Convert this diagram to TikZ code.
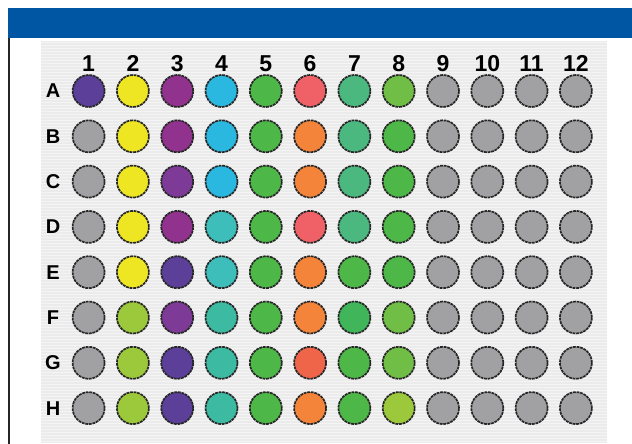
\documentclass[tikz,border=0pt]{standalone}
\usepackage{fontspec}
\setmainfont{Liberation Sans}
\usepackage{xcolor}
\usepackage{tikz}
\usetikzlibrary{positioning}

\definecolor{hdrblue}{HTML}{0056A3}
\definecolor{panelgray}{HTML}{EBEBEC}
\definecolor{wIndigo}{HTML}{5B3F99}
\definecolor{wYellow}{HTML}{EEE523}
\definecolor{wMagenta}{HTML}{92328F}
\definecolor{wPurple}{HTML}{7D3A96}
\definecolor{wCyan}{HTML}{2BB8E0}
\definecolor{wTeal}{HTML}{3DBEBA}
\definecolor{wTealg}{HTML}{3DBBA2}
\definecolor{wGreen}{HTML}{4DB748}
\definecolor{wGreenb}{HTML}{40B55A}
\definecolor{wRed}{HTML}{EF6166}
\definecolor{wRedor}{HTML}{EF654A}
\definecolor{wOrange}{HTML}{F4843A}
\definecolor{wSea}{HTML}{4AB87F}
\definecolor{wLime}{HTML}{70BE45}
\definecolor{wYlime}{HTML}{9CC83B}
\definecolor{wGray}{HTML}{A1A1A4}

\begin{document}
\begin{tikzpicture}[
    x=1pt,y=-1pt,
    well/.style={circle,draw=black!85,line width=1.7pt,
      dash pattern=on 2.8pt off 0.8pt,minimum size=32pt,inner sep=0pt},
    collabel/.style={anchor=base,inner sep=0pt,font=\bfseries\fontsize{23}{23}\selectfont},
    rowlabel/.style={anchor=base,inner sep=0pt,font=\bfseries\fontsize{20}{20}\selectfont}
  ]
    \useasboundingbox (0,0) rectangle (632,444);
    \fill[white] (0,0) rectangle (632,444);
    \fill[hdrblue] (8,8) rectangle (632,38);
    \draw[black!85,line width=1.6pt] (9,38) -- (9,444);
    % striped plate background
    \fill[panelgray] (41,41) rectangle (607,443);
    \foreach \s in {42,45,...,441}
      \draw[white!45!panelgray,line width=0.9pt] (41,\s) -- (607,\s);
    % column and row labels
    \foreach \c in {1,...,12}
      \node[collabel] (col\c) at ({88.6+44.3*(\c-1)},71.5) {\c};
    \foreach \r [count=\i] in {A,B,C,D,E,F,G,H}
      \node[rowlabel] (row\r) at (53,{98+45.3*(\i-1)}) {\r};
    % wells
    \foreach \r/\cols [count=\i] in {
        A/{wIndigo,wYellow,wMagenta,wCyan,wGreen,wRed,wSea,wLime,wGray,wGray,wGray,wGray},
        B/{wGray,wYellow,wMagenta,wCyan,wGreen,wOrange,wSea,wGreen,wGray,wGray,wGray,wGray},
        C/{wGray,wYellow,wPurple,wCyan,wGreen,wOrange,wSea,wGreen,wGray,wGray,wGray,wGray},
        D/{wGray,wYellow,wMagenta,wTeal,wGreen,wRed,wSea,wGreen,wGray,wGray,wGray,wGray},
        E/{wGray,wYellow,wIndigo,wTeal,wGreen,wOrange,wGreen,wGreen,wGray,wGray,wGray,wGray},
        F/{wGray,wYlime,wPurple,wTealg,wGreen,wOrange,wGreenb,wLime,wGray,wGray,wGray,wGray},
        G/{wGray,wYlime,wIndigo,wTealg,wGreen,wRedor,wGreen,wLime,wGray,wGray,wGray,wGray},
        H/{wGray,wYlime,wIndigo,wTealg,wGreen,wOrange,wGreen,wYlime,wGray,wGray,wGray,wGray}}
      \foreach \col [count=\c] in \cols
        \node[well,fill=\col] (well\r\c) at ({88.6+44.3*(\c-1)},{91+45.3*(\i-1)}) {};
  \end{tikzpicture}
\end{document}
